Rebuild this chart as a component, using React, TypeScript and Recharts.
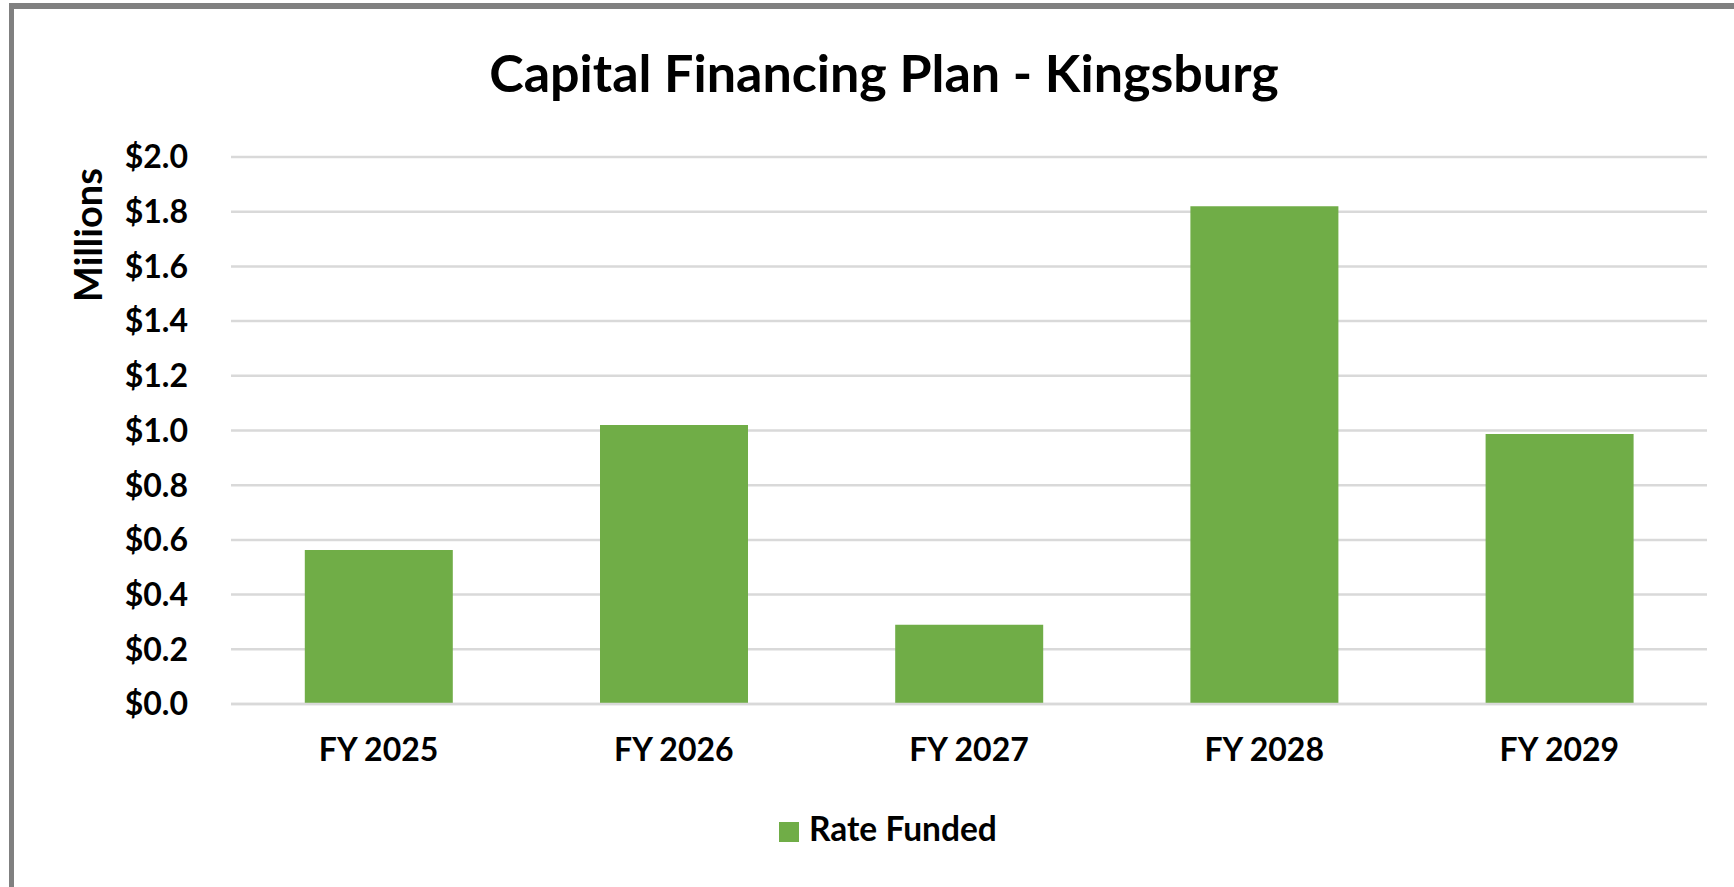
import { Bar, BarChart, CartesianGrid, XAxis, YAxis } from "recharts";

const YEARS = ["FY 2025", "FY 2026", "FY 2027", "FY 2028", "FY 2029"];
const RATE_FUNDED = [0.563, 1.02, 0.29, 1.82, 0.987];
const Y_TICKS = [0, 0.2, 0.4, 0.6, 0.8, 1.0, 1.2, 1.4, 1.6, 1.8, 2.0];

const FONT = "Lato, 'Open Sans', sans-serif";
const GREEN = "#70ad47";
const GRID = "#d9d9d9";

const data = YEARS.map((year, i) => ({ year, rate: RATE_FUNDED[i] }));

function AxisTitle({ viewBox }: any) {
  const x = (viewBox?.x ?? 0) + 102;
  const y = (viewBox?.y ?? 0) + 78;
  return (
    <text
      x={x}
      y={y}
      transform={`rotate(-90 ${x} ${y})`}
      textAnchor="middle"
      fontFamily={FONT}
      fontWeight={700}
      fontSize={38}
      fill="#000"
    >
      Millions
    </text>
  );
}

export default function App() {
  return (
    <div
      style={{
        position: "fixed",
        left: 0,
        top: 0,
        width: 1734,
        height: 887,
        background: "#fff",
        overflow: "hidden",
        fontFamily: FONT,
      }}
    >
      <div
        style={{
          position: "absolute",
          left: 9,
          top: 3,
          width: 1800,
          height: 950,
          borderLeft: "5px solid #808080",
          borderTop: "6px solid #808080",
        }}
      />
      <div
        style={{
          position: "absolute",
          left: 0,
          top: 46,
          width: 1768,
          textAlign: "center",
          fontSize: 52,
          lineHeight: "52px",
          fontWeight: 700,
          color: "#000",
        }}
      >
        Capital Financing Plan - Kingsburg
      </div>
      <div style={{ position: "absolute", left: 0, top: 0 }}>
        <BarChart
          width={1734}
          height={887}
          data={data}
          margin={{ top: 157, right: 27, bottom: 83, left: 0 }}
          barCategoryGap="25%"
        >
          <CartesianGrid vertical={false} stroke={GRID} strokeWidth={2.5} />
          <XAxis
            dataKey="year"
            height={100}
            axisLine={{ stroke: GRID, strokeWidth: 2.5 }}
            tickLine={false}
            tickSize={0}
            tickMargin={34}
            tick={{ fontFamily: FONT, fontWeight: 700, fontSize: 32, fill: "#000" }}
          />
          <YAxis
            width={231}
            domain={[0, 2]}
            ticks={Y_TICKS}
            interval={0}
            axisLine={false}
            tickLine={false}
            tickSize={0}
            tickMargin={43}
            tickFormatter={(v: number) => `$${v.toFixed(1)}`}
            tick={{ fontFamily: FONT, fontWeight: 700, fontSize: 32, fill: "#000" }}
            label={<AxisTitle />}
          />
          <Bar dataKey="rate" name="Rate Funded" fill={GREEN} isAnimationActive={false} />
        </BarChart>
      </div>
      <div
        style={{
          position: "absolute",
          left: 779,
          top: 822,
          width: 20,
          height: 20,
          background: GREEN,
        }}
      />
      <div
        style={{
          position: "absolute",
          left: 809,
          top: 812,
          fontSize: 33.5,
          lineHeight: "33.5px",
          fontWeight: 700,
          color: "#000",
          whiteSpace: "nowrap",
        }}
      >
        Rate Funded
      </div>
    </div>
  );
}
